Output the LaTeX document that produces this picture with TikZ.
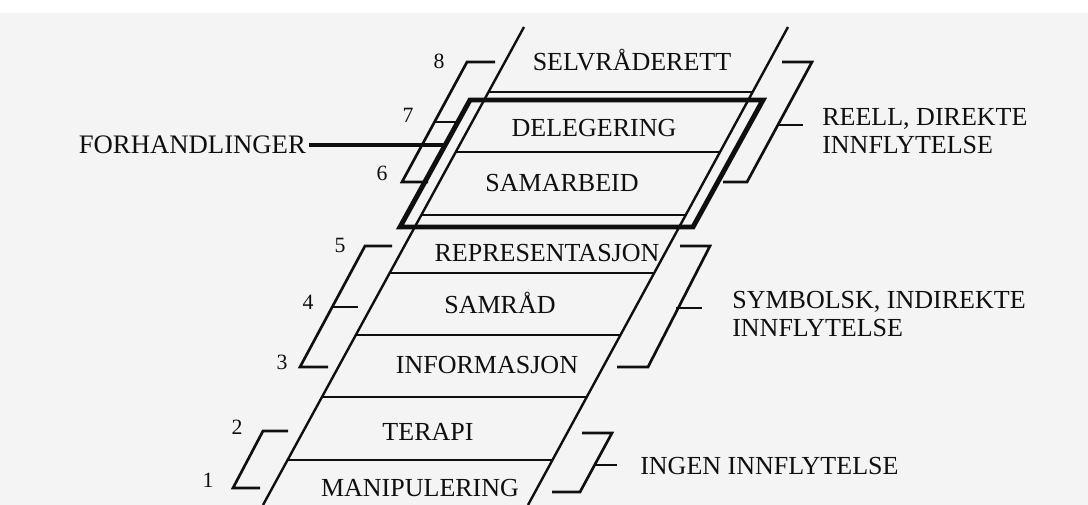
\documentclass[tikz,border=0pt]{standalone}
\usepackage{fontspec}
\setmainfont{Liberation Serif}
\usepackage{xcolor}
\usepackage{tikz}
\usetikzlibrary{positioning, calc}
\definecolor{inkblack}{RGB}{15,15,15}
\definecolor{papergray}{RGB}{244,244,244}
\tikzset{
  rail/.style={line width=1.7pt, color=inkblack},
  rung/.style={line width=1.7pt, color=inkblack},
  negbox/.style={line width=3.5pt, color=inkblack, line join=miter},
  brace/.style={line width=1.9pt, color=inkblack},
  lead/.style={line width=2.9pt, color=inkblack},
  rungtext/.style={font=\fontsize{18.5}{22}\selectfont, text=inkblack,
    inner sep=0pt, text height=12.2pt, text depth=0pt},
  sidetext/.style={font=\fontsize{18.5}{19.5}\selectfont, text=inkblack,
    align=left, anchor=west, inner sep=0pt},
  stepnum/.style={font=\fontsize{15.5}{18}\selectfont, text=inkblack,
    inner sep=0pt, text height=10.3pt, text depth=0pt}
}

\begin{document}
\begin{tikzpicture}[x=0.025cm, y=-0.025cm]
  \useasboundingbox (0,0) rectangle (1088,505);
  \fill[papergray] (0,13) rectangle (1088,505);
  % rails
  \draw[rail] (524,27) -- (263,505);
  \draw[rail] (788,27) -- (528,505);
  % rungs
  \foreach \y in {92,152,215,273,335,397,460}
    \draw[rung] ({524-0.546*(\y-27)},\y) -- ({788-0.546*(\y-27)},\y);
  % negotiation frame
  \draw[negbox] (470,100) -- (763,100) -- (693,227) -- (400,227) -- cycle;
  \coordinate (boxW) at (445,145);

  % rung labels
  \node[rungtext] (selv) at (632,62) {SELVRÅDERETT};
  \node[rungtext] (dele) at (594,128) {DELEGERING};
  \node[rungtext] (samar) at (562,183) {SAMARBEID};
  \node[rungtext] (repr) at (547,253) {REPRESENTASJON};
  \node[rungtext] (samr) at (500,305) {SAMRÅD};
  \node[rungtext] (info) at (487,365) {INFORMASJON};
  \node[rungtext] (tera) at (428,432) {TERAPI};
  \node[rungtext] (mani) at (420,488) {MANIPULERING};

  % step numbers
  \node[stepnum] (n8) at (439,61) {8};
  \node[stepnum] (n7) at (408,115) {7};
  \node[stepnum] (n6) at (382,173) {6};
  \node[stepnum] (n5) at (340,245) {5};
  \node[stepnum] (n4) at (308,302) {4};
  \node[stepnum] (n3) at (282,362) {3};
  \node[stepnum] (n2) at (237,427) {2};
  \node[stepnum] (n1) at (208,480) {1};

  % left brackets
  \draw[brace] (495,62) -- (467,62) -- (402,182) -- (428,182);
  \draw[brace] (434,122) -- (457,122);
  \draw[brace] (392,246) -- (365,246) -- (300,367) -- (328,367);
  \draw[brace] (332,307) -- (358,307);
  \draw[brace] (288,431) -- (263,431) -- (233,488) -- (260,488);

  % right brackets
  \draw[brace] (782,62) -- (812,62) -- (747,182) -- (723,182);
  \draw[brace] (779,125) -- (803,125);
  \draw[brace] (680,246) -- (710,246) -- (648,367) -- (617,367);
  \draw[brace] (676,308) -- (702,308);
  \draw[brace] (582,433) -- (612,433) -- (580,492) -- (552,492);
  \draw[brace] (595,465) -- (617,465);

  % side labels
  \node[sidetext] (reell) at (822,131) {REELL, DIREKTE\\INNFLYTELSE};
  \node[sidetext] (symb) at (732,314) {SYMBOLSK, INDIREKTE\\INNFLYTELSE};
  \node[sidetext] (ingen) at (640,466) {INGEN INNFLYTELSE};
  \node[sidetext, anchor=east, inner xsep=2pt, font=\fontsize{19}{20}\selectfont]
    (forh) at (309,145) {FORHANDLINGER};
  \draw[lead] (forh.east) -- (boxW);
\end{tikzpicture}
\end{document}
